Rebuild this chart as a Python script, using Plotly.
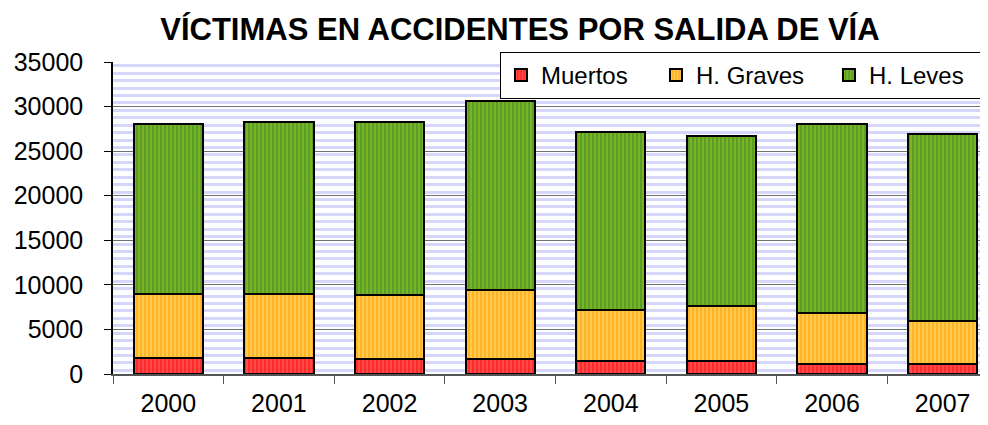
import plotly.graph_objects as go

years = ["2000", "2001", "2002", "2003", "2004", "2005", "2006", "2007"]
muertos = [1850, 1850, 1700, 1650, 1480, 1450, 1130, 1130]
graves = [7100, 7150, 7200, 7750, 5700, 6180, 5760, 4800]
leves = [19050, 19250, 19350, 21200, 19920, 19070, 21110, 20970]
y_ticks = [0, 5000, 10000, 15000, 20000, 25000, 30000, 35000]
y_labels = [str(v) for v in y_ticks]

FONT = "Liberation Sans, Arial, sans-serif"

series = [
    ("Muertos", muertos, "#ff2a2a", "#ff7070", 110),
    ("H. Graves", graves, "#ffb428", "#ffe27a", 128),
    ("H. Leves", leves, "#5a9e2a", "#a6cc1e", 109),
]

fig = go.Figure()
for name, vals, bg, fg, lw in series:
    fig.add_trace(go.Bar(
        x=years, y=vals, name=name, legendwidth=lw,
        marker=dict(
            color=bg,
            line=dict(color="black", width=2),
            pattern=dict(shape="|", bgcolor=bg, fgcolor=fg, size=4, solidity=0.45),
        ),
    ))

# page body has an 8px margin, so the figure is sized to fit the window
fig.update_layout(
    width=980, height=417,
    barmode="stack", bargap=0.375,
    margin=dict(l=105, r=0, t=54, b=51, autoexpand=False),
    paper_bgcolor="white", plot_bgcolor="white",
    font=dict(family=FONT, color="black"),
    title=dict(text="<b>VÍCTIMAS EN ACCIDENTES POR SALIDA DE VÍA</b>",
               x=0.5224, xanchor="center", y=0.9496, yanchor="middle",
               font=dict(size=31, family=FONT, color="black")),
    legend=dict(orientation="h", x=0.9954, xanchor="right", y=1.032, yanchor="top",
                bgcolor="white", bordercolor="black", borderwidth=1,
                font=dict(size=24, family=FONT), traceorder="normal",
                itemwidth=30),
    showlegend=True,
)
fig.update_xaxes(
    type="category", range=[-0.5, 7.41], automargin=False,
    showline=True, linecolor="#555555", linewidth=1.5,
    ticks="outside", tickson="boundaries", ticklen=8, tickcolor="#555555",
    tickfont=dict(size=25, family=FONT), ticklabelstandoff=6,
    showgrid=False,
)
fig.update_yaxes(
    range=[0, 35000], tickvals=y_ticks, ticktext=y_labels, automargin=False,
    showline=True, linecolor="black", linewidth=1.5,
    ticks="outside", ticklen=7, tickcolor="black",
    tickfont=dict(size=25, family=FONT), ticklabelstandoff=16,
    showgrid=True, gridcolor="#707070", gridwidth=1,
    minor=dict(dtick=5000 / 6, tick0=5000 / 12, showgrid=True, gridcolor="#d6d6fa", gridwidth=3, ticks=""),
    zeroline=False,
)

fig.write_html("out.html")
